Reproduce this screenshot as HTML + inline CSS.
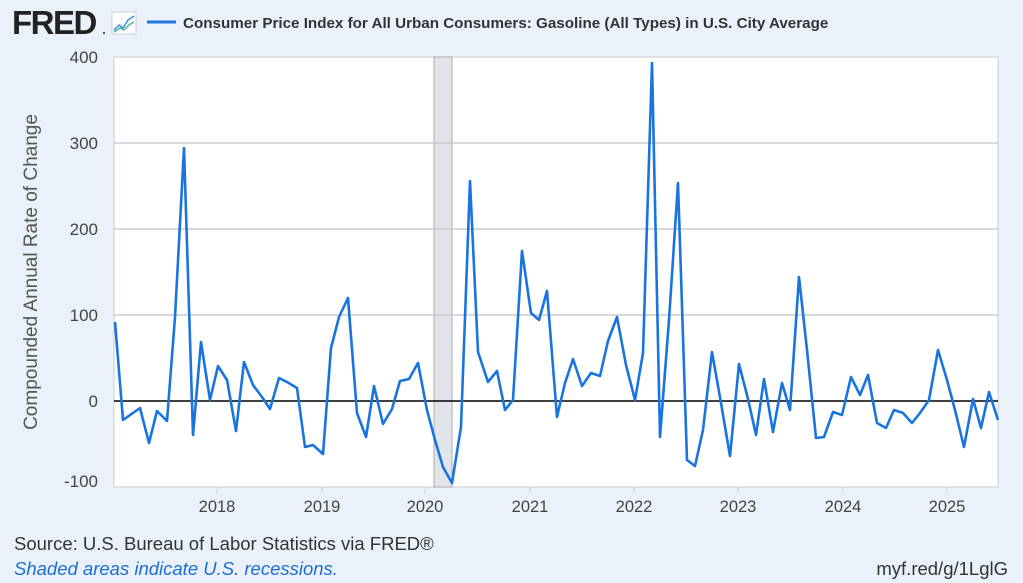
<!DOCTYPE html>
<html><head><meta charset="utf-8"><style>
body{margin:0;width:1023px;height:583px;background:#eaf1fa;font-family:"Liberation Sans",sans-serif;overflow:hidden;position:relative}
</style></head><body>
<svg width="1023" height="583" style="position:absolute;left:0;top:0">
<text x="12" y="34" font-family="Liberation Sans" font-weight="bold" font-size="33" fill="#222" letter-spacing="-1.5">FRED</text>
<circle cx="104" cy="33" r="1" fill="#222"/>
<rect x="112" y="12" width="24" height="22" fill="#fff" stroke="#ccd" />
<polyline points="114,30 119,25 123,28 128,20 134,16" fill="none" stroke="#3a8fd9" stroke-width="1.5"/>
<polyline points="114,32 120,28 124,30 129,25 134,22" fill="none" stroke="#4cb5a0" stroke-width="1.5"/>
<line x1="147" y1="22" x2="176" y2="22" stroke="#1f77e0" stroke-width="3"/>
<text x="183" y="28" font-family="Liberation Sans" font-size="15.2" font-weight="bold" fill="#333">Consumer Price Index for All Urban Consumers: Gasoline (All Types) in U.S. City Average</text>
<rect x="114" y="57" width="884" height="430" fill="#fff" stroke="#ccc"/>
<rect x="434" y="57" width="18" height="430" fill="#e1e5ea" stroke="#aaa"/>
<g stroke="#ccc" stroke-width="1.5">
<line x1="114" y1="143" x2="998" y2="143"/><line x1="114" y1="229" x2="998" y2="229"/><line x1="114" y1="315" x2="998" y2="315"/>
</g>
<g stroke="#ccd6e6" stroke-width="1">
<line x1="217" y1="487" x2="217" y2="494"/><line x1="322" y1="487" x2="322" y2="494"/><line x1="425" y1="487" x2="425" y2="494"/><line x1="530" y1="487" x2="530" y2="494"/><line x1="634" y1="487" x2="634" y2="494"/><line x1="738" y1="487" x2="738" y2="494"/><line x1="843" y1="487" x2="843" y2="494"/><line x1="947" y1="487" x2="947" y2="494"/>
</g>
<line x1="114" y1="401" x2="998" y2="401" stroke="#000" stroke-width="1.5"/>
<polyline fill="none" stroke="#1a74e0" stroke-width="2.6" stroke-linejoin="round" points="115,322 123,420 140,408 149,443 157,411 167,421 175,317 184,148 193,435 201,342 210,400 218,366 227,380 236,431 244,362 253,385 262,397 270,409 279,378 287,382 297,388 305,447 313,445 323,454 331,348 339,317 348,298 357,413 366,437 374,386 383,424 392,409 400,381 409,379 418,363 427,410 435,440 443,467 452,483 461,427 470,181 478,352 488,382 497,371 505,410 513,400 522,251 531,313 539,320 547,291 557,417 565,383 573,359 582,386 591,373 600,376 608,341 617,317 626,365 635,400 643,353 652,63 660,437 669,320 678,183 687,460 695,466 703,430 712,352 721,403 730,456 739,364 748,399 756,435 764,379 773,432 782,383 790,410 799,277 807,350 816,438 824,437 833,412 842,415 851,377 860,395 868,375 877,423 886,428 894,410 903,413 912,423 920,413 929,400 938,350 947,380 955,410 964,447 973,399 981,428 989,392 998,420"/>
<g font-family="Liberation Sans" font-size="17" fill="#444" text-anchor="end">
<text x="98" y="63">400</text><text x="98" y="149">300</text><text x="98" y="235">200</text><text x="98" y="321">100</text><text x="98" y="407">0</text><text x="98" y="487">-100</text>
</g>
<g font-family="Liberation Sans" font-size="16.5" fill="#444" text-anchor="middle">
<text x="217" y="512">2018</text><text x="322" y="512">2019</text><text x="425" y="512">2020</text><text x="530" y="512">2021</text><text x="634" y="512">2022</text><text x="738" y="512">2023</text><text x="843" y="512">2024</text><text x="947" y="512">2025</text>
</g>
<text transform="translate(37,272) rotate(-90)" font-family="Liberation Sans" font-size="19" fill="#555" text-anchor="middle">Compounded Annual Rate of Change</text>
<text x="14" y="550" font-family="Liberation Sans" font-size="18.5" fill="#333">Source: U.S. Bureau of Labor Statistics via FRED®</text>
<text x="14" y="575" font-family="Liberation Sans" font-size="18.5" font-style="italic" fill="#1a6fd0">Shaded areas indicate U.S. recessions.</text>
<text x="1008" y="575" font-family="Liberation Sans" font-size="18.5" fill="#333" text-anchor="end">myf.red/g/1LglG</text>
</svg>
</body></html>
